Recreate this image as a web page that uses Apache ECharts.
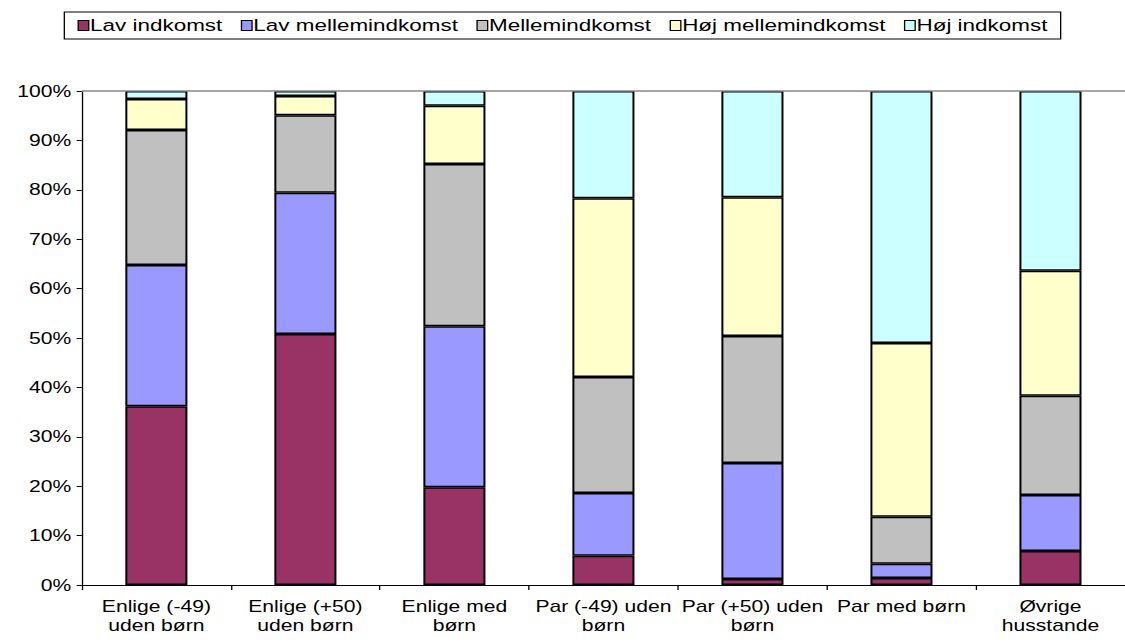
<!DOCTYPE html>
<html><head><meta charset="utf-8">
<script src="https://cdn.jsdelivr.net/npm/echarts@6/dist/echarts.min.js"></script>
<style>html,body{margin:0;background:#fff;overflow:hidden}#c{width:852px;height:643px;transform:scaleX(1.3204);transform-origin:0 0}</style>
</head><body><div id="c"></div>
<script>
var categories=["Enlige (-49)\nuden børn","Enlige (+50)\nuden børn","Enlige med\nbørn","Par (-49) uden\nbørn","Par (+50) uden\nbørn","Par med børn","Øvrige\nhusstande"];
var lav=[36.2,50.8,19.8,5.9,1.2,1.4,6.9];
var lavMellem=[28.6,28.6,32.6,12.7,23.5,2.9,11.3];
var mellem=[27.3,15.7,32.8,23.5,25.7,9.5,20.1];
var hojMellem=[6.3,3.9,11.8,36.2,28.1,35.2,25.3];
var hoj=[1.6,1.0,3.0,21.7,21.5,51.0,36.4];
var names=["Lav indkomst","Lav mellemindkomst","Mellemindkomst","Høj mellemindkomst","Høj indkomst"];
var colors=["#993366","#9999ff","#c0c0c0","#ffffcc","#ccffff"];
var data=[lav,lavMellem,mellem,hojMellem,hoj];
var font="Liberation Sans";
var series=data.map(function(d,i){
    return {name:names[i],type:"bar",stack:"a",barWidth:47,data:d,
        itemStyle:{color:colors[i],borderColor:"#000",borderWidth:1.5}};
});
echarts.init(document.getElementById("c"),null,{renderer:"svg"}).setOption({
    animation:false,
    textStyle:{fontFamily:font},
    color:colors,
    legend:{top:12,left:"center",itemWidth:8,itemHeight:10,itemGap:14,
        borderColor:"#000",borderWidth:1,padding:[5,10],borderRadius:0,
        icon:"rect",itemStyle:{borderColor:"#000",borderWidth:1},
        textStyle:{fontSize:17,color:"#000",fontFamily:font,padding:[0,0,0,-4]}},
    grid:{left:62,right:-8,top:91,bottom:58},
    xAxis:{type:"category",data:categories,
        axisLine:{lineStyle:{color:"#000"}},
        axisTick:{show:true,length:5,lineStyle:{color:"#000"}},
        axisLabel:{fontSize:16,color:"#000",lineHeight:19,margin:12,interval:0}},
    yAxis:{type:"value",min:0,max:100,interval:10,
        axisLine:{show:true,lineStyle:{color:"#000"}},
        axisTick:{show:true,length:4,lineStyle:{color:"#000"}},
        splitLine:{show:false},
        axisLabel:{fontSize:16,color:"#000",formatter:"{value}%",margin:8}},
    series:series.concat([{type:"line",data:[],markLine:{silent:true,symbol:"none",label:{show:false},
        lineStyle:{color:"#888",type:"solid",width:1.5},data:[{yAxis:100}]}}])
});
</script></body></html>
